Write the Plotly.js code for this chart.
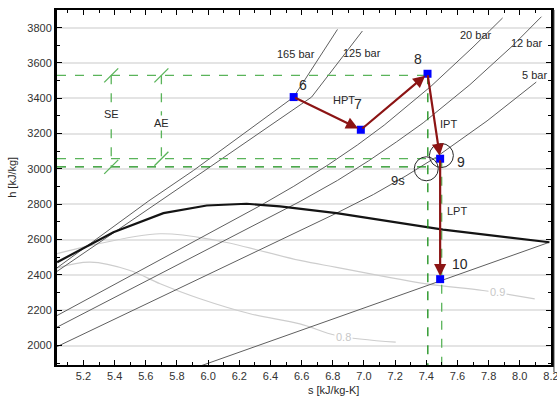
<!DOCTYPE html>
<html>
<head>
<meta charset="utf-8">
<script src="https://cdn.plot.ly/plotly-3.0.1.min.js"></script>
<style>html,body{margin:0;padding:0;background:#fff;}#chart{width:557px;height:399px;}</style>
</head>
<body>
<div id="chart"></div>
<script>
// ---- data ----
const satS = [5.031, 5.392, 5.713, 5.991, 6.247, 6.461, 6.824, 7.508, 8.19];
const satH = [2472, 2642, 2750, 2793, 2803, 2788, 2750, 2656, 2585];

const p165S = [5.03, 5.62, 5.905, 6.549, 6.83];
const p165H = [2440, 2820, 2991, 3407, 3790];
const p125S = [5.03, 5.706, 5.98, 6.664, 6.99];
const p125H = [2420, 2826, 2992, 3407, 3781];
const p20S = [5.03, 6.34, 6.55, 6.77, 6.96, 7.13, 7.43, 7.70, 7.89];
const p20H = [2170, 2795, 2902, 3023, 3137, 3248, 3468, 3690, 3855];
const p12S = [5.03, 6.52, 6.59, 6.83, 7.03, 7.21, 7.38, 7.68, 7.95, 8.139];
const p12H = [2104, 2784, 2816, 2935, 3046, 3154, 3261, 3477, 3694, 3862];
const p5S = [5.03, 6.82, 7.06, 7.27, 7.46, 7.79, 8.106];
const p5H = [1994, 2748, 2855, 2961, 3065, 3272, 3492];
const pcS = [5.959, 8.19];
const pcH = [1887, 2585];

const q9S = [5.03, 5.243, 5.692, 6.055, 6.589, 6.824, 7.401, 7.764, 8.096];
const q9H = [2520, 2566, 2633, 2595, 2482, 2443, 2349, 2312, 2264];
const q8S = [5.03, 5.243, 5.499, 5.692, 5.948, 6.269, 6.589, 6.824, 7.204];
const q8H = [2440, 2472, 2425, 2350, 2265, 2180, 2123, 2057, 2019];

const ptLabels = ['6', '7', '8', '9', '10'];
const ptS = [6.549, 6.98, 7.408, 7.489, 7.489];
const ptH = [3407, 3222, 3539, 3058, 2376];
const h9s = 3012;
const s9s = 7.41;
const hTop = 3530;
const seS = 5.378;
const aeS = 5.70;

const isobarNames = ['165 bar', '125 bar', '20 bar', '12 bar', '5 bar'];

// ---- build chart ----
const X0 = 5.03, X1 = 8.2005, Y0 = 1890, Y1 = 3900;
const FONT = 'Liberation Sans, Arial, sans-serif';
const grayLine = {color: 'rgb(95,95,95)', width: 1};
const traces = [];
function line(xs, ys, ln, extra) {
  traces.push(Object.assign({x: xs, y: ys, mode: 'lines', line: ln, hoverinfo: 'skip', showlegend: false, type: 'scatter'}, extra || {}));
}
// quality lines
line(q9S, q9H, {color: 'rgb(205,205,205)', width: 1.2, shape: 'spline'});
line(q8S, q8H, {color: 'rgb(205,205,205)', width: 1.2, shape: 'spline'});
// isobars
[[p165S, p165H], [p125S, p125H], [p20S, p20H], [p12S, p12H], [p5S, p5H], [pcS, pcH]].forEach(p => line(p[0], p[1], grayLine));
// saturation line
line(satS, satH, {color: 'rgb(20,20,20)', width: 2.2});

// green construction lines
const gLight = 'rgb(90,180,90)', gDark = 'rgb(20,140,20)';
line([X0, ptS[2]], [hTop, hTop], {color: gLight, width: 1.3, dash: 'dash'});
line([X0, ptS[3]], [ptH[3], ptH[3]], {color: gLight, width: 1.3, dash: 'dash'});
line([X0, s9s], [h9s, h9s], {color: gDark, width: 1.3, dash: 'dash'});
line([s9s, s9s], [hTop, Y0], {color: gDark, width: 1.3, dash: 'dash'});
line([ptS[3] + 0.01, ptS[3] + 0.01], [ptH[3], Y0], {color: gLight, width: 1.3, dash: 'dash'});
line([seS, seS], [hTop, h9s], {color: gLight, width: 1.3, dash: 'dash'},
     {mode: 'lines+markers', marker: {symbol: 'line-ne', size: 14, line: {color: gLight, width: 1.3}}});
line([aeS, aeS], [hTop, ptH[3]], {color: gLight, width: 1.3, dash: 'dash'},
     {mode: 'lines+markers', marker: {symbol: 'line-ne', size: 14, line: {color: gLight, width: 1.3}}});

// state points
traces.push({x: ptS, y: ptH, mode: 'markers', type: 'scatter', showlegend: false, hoverinfo: 'skip',
  marker: {symbol: 'square', size: 8, color: 'rgb(0,0,255)'}});

const arrowColor = 'rgb(140,20,20)';
const annotations = [];
for (let i = 0; i < ptS.length - 1; i++) {
  annotations.push({x: ptS[i + 1], y: ptH[i + 1], ax: ptS[i], ay: ptH[i], xref: 'x', yref: 'y', axref: 'x', ayref: 'y',
    showarrow: true, arrowhead: 2, arrowsize: 1.1, arrowwidth: 2.2, arrowcolor: arrowColor, standoff: 3, text: ''});
}
function txt(t, x, y, size, extra) {
  annotations.push(Object.assign({x: x, y: y, xref: 'x', yref: 'y', text: t, showarrow: false,
    font: {family: FONT, size: size, color: 'rgb(40,40,40)'}}, extra || {}));
}
// isobar labels
txt(isobarNames[0], 6.563, 3653, 11);
txt(isobarNames[1], 6.985, 3656, 11);
txt(isobarNames[2], 7.719, 3760, 11);
txt(isobarNames[3], 8.046, 3715, 11);
txt(isobarNames[4], 8.096, 3530, 11);
// point labels
txt(ptLabels[0], 6.61, 3473, 14);
txt(ptLabels[1], 6.963, 3365, 14);
txt(ptLabels[2], 7.347, 3624, 14);
txt(ptLabels[3], 7.626, 3039, 14);
txt(ptLabels[4], 7.615, 2463, 14);
txt('9s', 7.219, 2935, 13);
txt('HPT', 6.872, 3392, 11);
txt('IPT', 7.54, 3256, 11);
txt('LPT', 7.594, 2761, 11);
txt('SE', 5.378, 3309, 11, {bgcolor: 'white'});
txt('AE', 5.70, 3262, 11, {bgcolor: 'white'});
txt('0.9', 7.86, 2302, 11, {bgcolor: 'white', font: {family: FONT, size: 11, color: 'rgb(200,200,200)'}});
txt('0.8', 6.871, 2047, 11, {bgcolor: 'white', font: {family: FONT, size: 11, color: 'rgb(200,200,200)'}});
// axis titles
annotations.push({xref: 'paper', yref: 'paper', x: 0.56, y: -0.071, yanchor: 'middle', text: 's [kJ/kg-K]', showarrow: false,
  font: {family: FONT, size: 11, color: 'rgb(40,40,40)'}});
annotations.push({xref: 'paper', yref: 'paper', x: -0.075, y: 0.53, xanchor: 'right', text: 'h [kJ/kg]', textangle: -90, showarrow: false,
  font: {family: FONT, size: 11, color: 'rgb(40,40,40)'}});

const shapes = [
  {type: 'circle', xref: 'x', yref: 'y', xsizemode: 'pixel', ysizemode: 'pixel', xanchor: 7.497, yanchor: 3076,
   x0: -12, x1: 12, y0: -12, y1: 12, line: {color: 'rgb(40,40,40)', width: 1}},
  {type: 'circle', xref: 'x', yref: 'y', xsizemode: 'pixel', ysizemode: 'pixel', xanchor: 7.40, yanchor: 3001,
   x0: -12, x1: 12, y0: -12, y1: 12, line: {color: 'rgb(40,40,40)', width: 1}},
  {type: 'line', xref: 'paper', yref: 'paper', x0: 1.006, x1: 1.006, y0: -0.02, y1: 1.0, line: {color: 'rgb(60,60,60)', width: 1}}
];

const axisFont = {family: FONT, size: 11, color: 'rgb(50,50,50)'};
const layout = {
  width: 557, height: 399,
  margin: {l: 57, r: 6, t: 10, b: 34, pad: 0},
  paper_bgcolor: 'white', plot_bgcolor: 'white',
  showlegend: false,
  xaxis: {range: [X0, X1], dtick: 0.2, tick0: 0, tickformat: '.1f', ticks: 'inside', ticklen: 5, tickcolor: 'black',
    showline: true, linecolor: 'black', linewidth: 2, mirror: 'ticks', showgrid: false, zeroline: false,
    ticklabeloverflow: 'allow',
    tickfont: axisFont, minor: {dtick: 0.1, ticks: 'inside', ticklen: 3, tickcolor: 'black'}},
  yaxis: {range: [Y0, Y1], dtick: 200, tick0: 0, ticks: 'inside', ticklen: 5, tickcolor: 'black',
    showline: true, linecolor: 'black', linewidth: 3, mirror: 'ticks', showgrid: true, gridcolor: 'rgb(228,228,228)', gridwidth: 2,
    zeroline: false, tickfont: axisFont, minor: {dtick: 100, ticks: 'inside', ticklen: 3, tickcolor: 'black'}},
  annotations: annotations,
  shapes: shapes
};
Plotly.newPlot('chart', traces, layout, {displayModeBar: false, staticPlot: true});
</script>
</body>
</html>
